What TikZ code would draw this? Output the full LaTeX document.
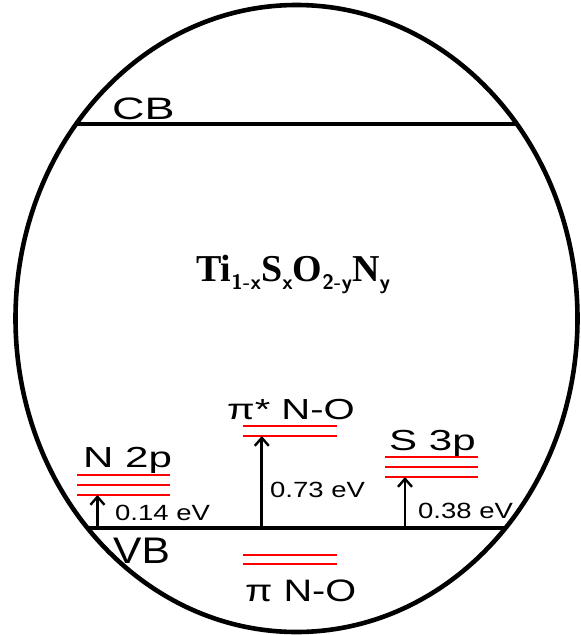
\documentclass[tikz,border=0pt]{standalone}
\usepackage{fontspec}
\setmainfont{Liberation Sans}
\newfontfamily\serifbold{Liberation Serif}
\usetikzlibrary{arrows.meta}
\newcommand{\hstretch}[2]{\scalebox{#1}[1]{#2}}
\newcommand{\subtxt}[1]{\raisebox{-8pt}{\fontsize{21}{21}\selectfont\sffamily\bfseries #1}}
\begin{document}
\begin{tikzpicture}[x=1pt,y=-1pt,
  band/.style={line width=4.6pt},
  lvl/.style={draw=red, line width=2.6pt},
  up/.style={line width=2.8pt, -{Straight Barb[length=8pt,width=14pt,line width=2.4pt]}},
  txt/.style={inner sep=0pt, anchor=base west},
  big/.style={txt, font=\fontsize{29}{29}\selectfont},
  ev/.style={txt, font=\fontsize{22}{22}\selectfont}]
\useasboundingbox (0,0) rectangle (581,635);
% outer ellipse
\draw[band] (296.5,318.5) ellipse [x radius=281, y radius=313.5];
% bands
\coordinate (cbL) at (76.5,124);
\coordinate (cbR) at (516.5,124);
\coordinate (vbL) at (87.5,528);
\coordinate (vbR) at (505.5,528);
\draw[band] (cbL) -- (cbR);
\draw[band] (vbL) -- (vbR);
% levels
\draw[lvl] (77,475) -- (170,475);
\draw[lvl] (77,485) -- (170,485);
\draw[lvl] (77,495) -- coordinate[pos=0.22] (n2p) (170,495);
\draw[lvl] (243,426) -- (337,426);
\draw[lvl] (243,436) -- coordinate[pos=0.2] (pis) (337,436);
\draw[lvl] (243,555) -- (337,555);
\draw[lvl] (243,564) -- (337,564);
\draw[lvl] (385,457) -- (478,457);
\draw[lvl] (385,467) -- (478,467);
\draw[lvl] (385,477) -- coordinate[pos=0.215] (s3p) (478,477);
% arrows
\coordinate (a1) at (n2p |- 526,526);
\coordinate (a2) at (pis |- 526,526);
\coordinate (a3) at (s3p |- 526,526);
\draw[up] (a1) -- (n2p);
\draw[up] (a2) -- (pis);
\draw[up] (a3) -- (s3p);
% labels
\node[txt, font=\fontsize{31}{31}\selectfont] (cb) at (112,119) {\hstretch{1.45}{CB}};
\node[txt, font=\fontsize{37}{37}\selectfont] (vb) at (113,563) {\hstretch{1.15}{VB}};
\node[big] (ln2p) at (83,467) {\hstretch{1.45}{N 2p}};
\node[big] (lpis) at (227,419) {\hstretch{1.38}{π* N-O}};
\node[txt, font=\fontsize{31}{31}\selectfont] (lpi) at (245,601) {\hstretch{1.28}{π N-O}};
\node[big] (ls3p) at (389,450) {\hstretch{1.45}{S 3p}};
\node[ev] (e1) at (115,520) {\hstretch{1.25}{0.14 eV}};
\node[ev] (e2) at (270,497) {\hstretch{1.25}{0.73 eV}};
\node[ev] (e3) at (418,518) {\hstretch{1.25}{0.38 eV}};
\node[txt, font=\serifbold\bfseries\fontsize{38}{38}\selectfont] (f) at (196,281)
  {Ti\subtxt{1-x}S\subtxt{x}O\subtxt{2-y}N\subtxt{y}};
\end{tikzpicture}
\end{document}
